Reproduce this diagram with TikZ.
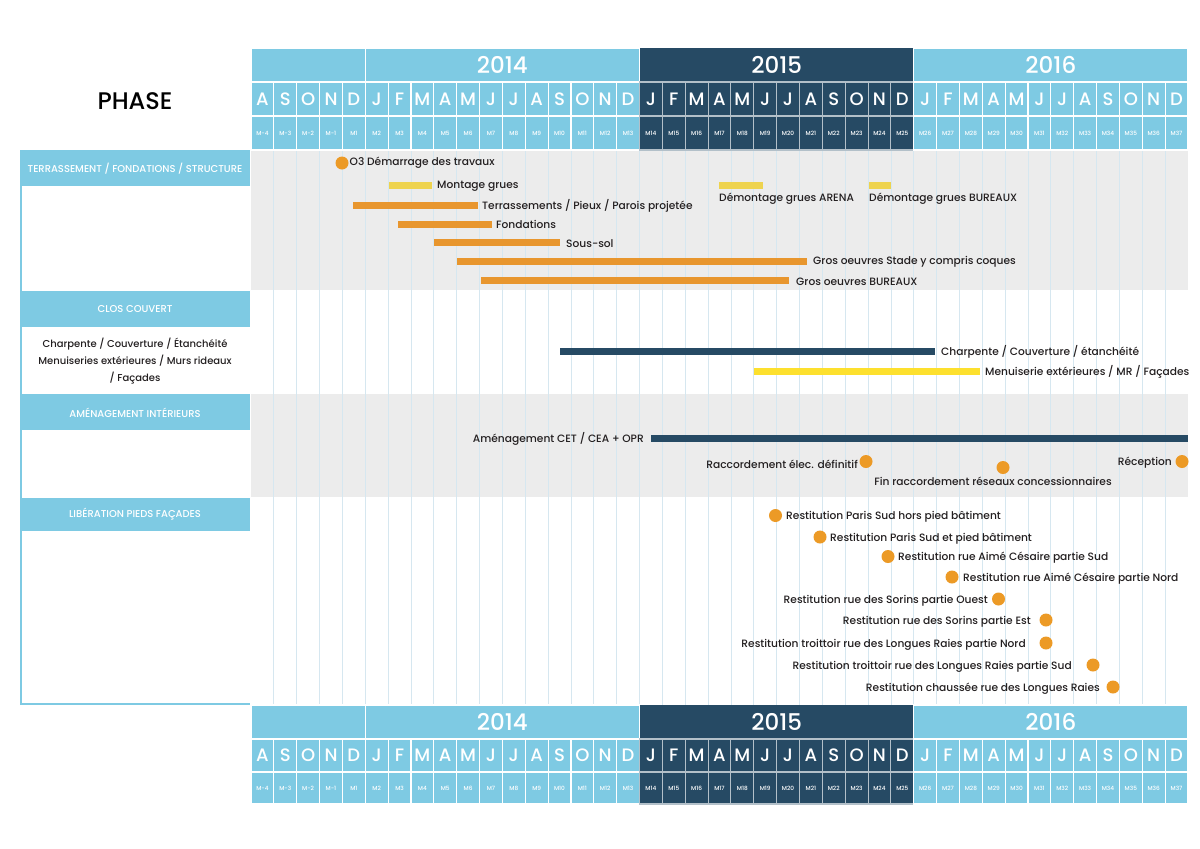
\documentclass[tikz,border=0pt]{standalone}
\usepackage{fontspec}
\setmainfont{Poppins}[UprightFont={* Medium}, BoldFont={* SemiBold}]
\definecolor{lb}{HTML}{7ECAE3}
\definecolor{navy}{HTML}{264A64}
\definecolor{band}{HTML}{ECECEC}
\definecolor{gridc}{HTML}{D6E7F0}
\definecolor{orangec}{HTML}{E8962E}
\definecolor{msc}{HTML}{EC9A26}
\definecolor{yelA}{HTML}{EED34F}
\definecolor{yelB}{HTML}{FDE02E}
\definecolor{txt}{HTML}{231F20}
\tikzset{
  lbl/.style={font=\fontsize{10.65}{12}\selectfont, inner sep=0, text=txt, yshift=-0.8pt},
  hdr/.style={font=\fontsize{9.95}{11}\selectfont, inner sep=0, text=white},
  side/.style={font=\fontsize{10}{11}\selectfont, inner sep=0, text=txt, align=center},
  yr/.style={font=\fontsize{23}{25}\selectfont, inner sep=0, text=white},
  mon/.style={font=\fontsize{18}{20}\selectfont, inner sep=0, text=white},
  mlab/.style={font=\fontsize{5.8}{7}\selectfont, inner sep=0, text=white},
  ms/.style={circle, fill=msc, minimum size=13pt, inner sep=0},
  barO/.style={fill=orangec},
}
\begin{document}
\begin{tikzpicture}[x=1pt,y=-1pt]
\useasboundingbox (0,0) rectangle (1200,849);
\fill[white] (0,0) rectangle (1200,849);

% body bands
\fill[band] (251,150) rectangle (1188,290);
\fill[band] (251,394) rectangle (1188,497);
\foreach \i in {1,...,40} {
  \draw[gridc, line width=0.8] ({251+\i*22.8537},150) -- ({251+\i*22.8537},705);
}

% time headers
\foreach \top/\ha/\hb/\hc [count=\k] in {48/34/34/34,705/34/33/32} {
  \pgfmathsetmacro\yA{\top+\ha}
  \pgfmathsetmacro\yB{\yA+\hb}
  \pgfmathsetmacro\yC{\yB+\hc}
  \fill[lb] (251,\top) rectangle (639.51,\yA);
  \fill[navy] (639.51,\top) rectangle (913.76,\yA);
  \fill[lb] (913.76,\top) rectangle (1188,\yA);
  \draw[white, line width=1.3] (251,\top) rectangle (365.27,\yA);
  \draw[white, line width=1.3] (365.27,\top) rectangle (639.51,\yA);
  \draw[white, line width=1.3] (913.76,\top) rectangle (1188,\yA);
  \node[yr] (ya-\k) at (502.39,{(\top+\yA)/2}) {2014};
  \node[yr] (yb-\k) at (776.64,{(\top+\yA)/2}) {2015};
  \node[yr] (yc-\k) at (1050.88,{(\top+\yA)/2}) {2016};
  \foreach \m [count=\i from 0] in {A,S,O,N,D,J,F,M,A,M,J,J,A,S,O,N,D,J,F,M,A,M,J,J,A,S,O,N,D,J,F,M,A,M,J,J,A,S,O,N,D} {
    \pgfmathsetmacro\xa{251+\i*22.8537}
    \pgfmathsetmacro\xb{\xa+22.8537}
    \ifnum\i<17 \def\cc{lb}\def\dc{white}\else\ifnum\i<29 \def\cc{navy}\def\dc{white!65!navy}\else\def\cc{lb}\def\dc{white}\fi\fi
    \fill[\cc] (\xa,\yA) rectangle (\xb,\yC);
    \draw[\dc, line width=1.1] (\xa,\yA) rectangle (\xb,\yB);
    \draw[\dc, line width=1.1] (\xa,\yB) rectangle (\xb,\yC);
    \node[mon] (mo-\k-\i) at ({(\xa+\xb)/2},{(\yA+\yB)/2}) {\m};
    \pgfmathtruncatemacro\n{\i<4 ? \i-4 : \i-3}
    \node[mlab] (ml-\k-\i) at ({(\xa+\xb)/2},{(\yB+\yC)/2}) {M\n};
  }
}

% left panel
\node[font=\fontsize{24}{27}\selectfont, inner sep=0, text=black] (phase) at (135,101) {PHASE};
\fill[lb] (20,150) rectangle (250,186);
\fill[lb] (20,291) rectangle (250,327);
\fill[lb] (20,394) rectangle (250,430);
\fill[lb] (20,498) rectangle (250,531);
\draw[lb, line width=2] (21,186) -- (21,704) -- (250,704);
\node[hdr] (h1) at (135,168.5) {TERRASSEMENT / FONDATIONS / STRUCTURE};
\node[hdr] (h2) at (135,309.5) {CLOS COUVERT};
\node[hdr] (h3) at (135,412.5) {AMÉNAGEMENT INTÉRIEURS};
\node[hdr] (h4) at (135,514.5) {LIBÉRATION PIEDS FAÇADES};
\node[side] (s1) at (135,344) {Charpente / Couverture / Étanchéité};
\node[side] (s2) at (135,361) {Menuiseries extérieures / Murs rideaux};
\node[side] (s3) at (135,378) {/ Façades};

% terrassement section
\node[ms] (o3) at (342,163) {};
\node[lbl, anchor=west] (t-o3) at (349.5,162) {O3 Démarrage des travaux};
\fill[yelA] (389,182) rectangle (432,189);
\node[lbl, anchor=west] (t-mg) at (437,185.5) {Montage grues};
\fill[yelA] (719,182) rectangle (763,189);
\node[lbl, anchor=west] (t-da) at (719,197.5) {Démontage grues ARENA};
\fill[yelA] (869,182) rectangle (891,189);
\node[lbl, anchor=west] (t-db) at (869,197.5) {Démontage grues BUREAUX};
\fill[barO] (353,202) rectangle (478,209);
\node[lbl, anchor=west] (t-te) at (482,205) {Terrassements / Pieux / Parois projetée};
\fill[barO] (398,221) rectangle (492,228);
\node[lbl, anchor=west] (t-fo) at (496,224) {Fondations};
\fill[barO] (434,239) rectangle (560,246);
\node[lbl, anchor=west] (t-ss) at (566,242.5) {Sous-sol};
\fill[barO] (457,258) rectangle (807,265);
\node[lbl, anchor=west] (t-gs) at (813,261) {Gros oeuvres Stade y compris coques};
\fill[barO] (481,277) rectangle (789,284);
\node[lbl, anchor=west] (t-gb) at (796,280.5) {Gros oeuvres BUREAUX};

% clos couvert
\fill[navy] (560,347.5) rectangle (935,354.5);
\node[lbl, anchor=west] (t-ch) at (941,351) {Charpente / Couverture / étanchéité};
\fill[yelB] (754,367.5) rectangle (980,374.5);
\node[lbl, anchor=west] (t-me) at (985,371) {Menuiserie extérieures / MR / Façades};

% amenagement
\fill[navy] (651,434.5) rectangle (1188,441.5);
\node[lbl, anchor=east] (t-am) at (644,438.5) {Aménagement CET / CEA + OPR};
\node[ms] (m-ra) at (866,461.5) {};
\node[lbl, anchor=east] (t-ra) at (858,464) {Raccordement élec. définitif};
\node[ms] (m-fi) at (1003,467.5) {};
\node[lbl] (t-fi) at (993,481) {Fin raccordement réseaux concessionnaires};
\node[ms] (m-re) at (1182,461.5) {};
\node[lbl, anchor=east] (t-re) at (1172,462) {Réception};

% liberation
\node[ms] (r1) at (775.5,515.5) {};
\node[lbl, anchor=west] (t-r1) at (786,515.5) {Restitution Paris Sud hors pied bâtiment};
\node[ms] (r2) at (820,537) {};
\node[lbl, anchor=west] (t-r2) at (830,537.5) {Restitution Paris Sud et pied bâtiment};
\node[ms] (r3) at (888,556.5) {};
\node[lbl, anchor=west] (t-r3) at (898,557) {Restitution rue Aimé Césaire partie Sud};
\node[ms] (r4) at (952,577) {};
\node[lbl, anchor=west] (t-r4) at (963,577.5) {Restitution rue Aimé Césaire partie Nord};
\node[ms] (r5) at (998.5,599) {};
\node[lbl, anchor=east] (t-r5) at (988,600) {Restitution rue des Sorins partie Ouest};
\node[ms] (r6) at (1046,620) {};
\node[lbl, anchor=east] (t-r6) at (1031,621) {Restitution rue des Sorins partie Est};
\node[ms] (r7) at (1046,643) {};
\node[lbl, anchor=east] (t-r7) at (1026,644) {Restitution troittoir rue des Longues Raies partie Nord};
\node[ms] (r8) at (1093,665) {};
\node[lbl, anchor=east] (t-r8) at (1072,666) {Restitution troittoir rue des Longues Raies partie Sud};
\node[ms] (r9) at (1113,687) {};
\node[lbl, anchor=east] (t-r9) at (1100,687.5) {Restitution chaussée rue des Longues Raies};
\end{tikzpicture}
\end{document}
